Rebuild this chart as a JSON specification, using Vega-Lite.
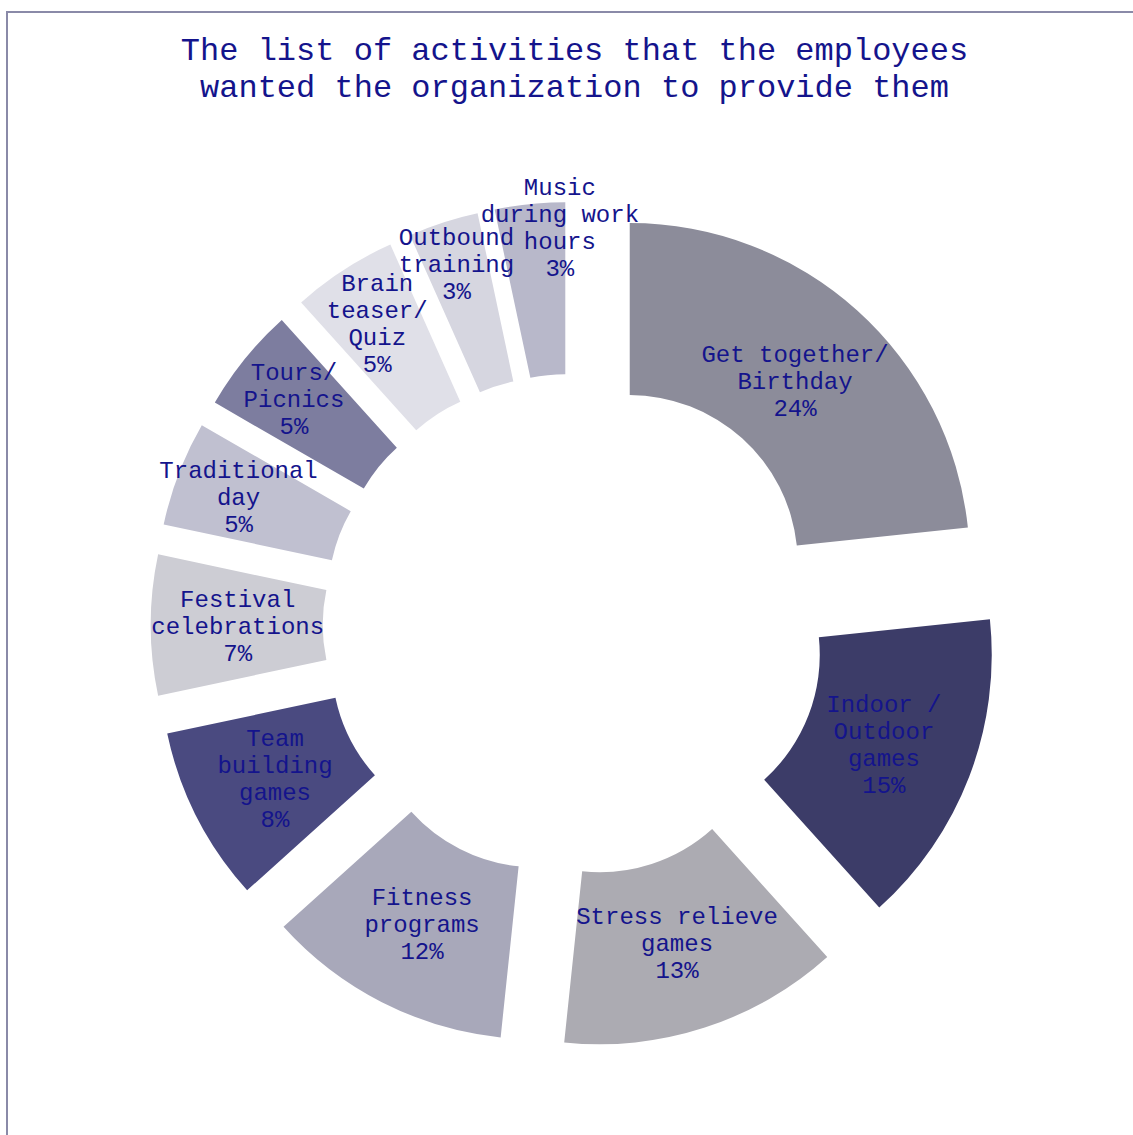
{
  "$schema": "https://vega.github.io/schema/vega-lite/v6.json",
  "autosize": {"type": "none"},
  "padding": {"left": 7, "top": 12, "right": -9, "bottom": -10},
  "width": 1135,
  "height": 1133,
  "background": "white",
  "config": {
    "view": {"stroke": "#8a8aa8", "strokeWidth": 2, "fill": "white"},
    "font": "Liberation Mono"
  },
  "title": {
    "text": ["The list of activities that the employees", "wanted the organization to provide them"],
    "font": "Liberation Mono",
    "fontSize": 32,
    "fontWeight": "normal",
    "color": "#14148c",
    "anchor": "middle",
    "orient": "top",
    "baseline": "top",
    "lineHeight": 37,
    "offset": -92,
    "frame": "group"
  },
  "data": {
    "values": [
      {"name": "Get together/\nBirthday", "count": 14, "pct": 24},
      {"name": "Indoor /\nOutdoor\ngames", "count": 9, "pct": 15},
      {"name": "Stress relieve\ngames", "count": 8, "pct": 13},
      {"name": "Fitness\nprograms", "count": 7, "pct": 12},
      {"name": "Team\nbuilding\ngames", "count": 5, "pct": 8},
      {"name": "Festival\ncelebrations", "count": 4, "pct": 7},
      {"name": "Traditional\nday", "count": 3, "pct": 5},
      {"name": "Tours/\nPicnics", "count": 3, "pct": 5},
      {"name": "Brain\nteaser/\nQuiz", "count": 3, "pct": 5},
      {"name": "Outbound\ntraining", "count": 2, "pct": 3},
      {"name": "Music\nduring work\nhours", "count": 2, "pct": 3}
    ]
  },
  "transform": [
    {"window": [{"op": "sum", "field": "count", "as": "s1"}], "frame": [null, 0]},
    {"calculate": "datum.s1 - datum.count", "as": "s0"},
    {"calculate": "(datum.s0 + datum.s1) / 2", "as": "mid"},
    {"calculate": "sin(2 * PI * datum.mid / 60)", "as": "dx"},
    {"calculate": "cos(2 * PI * datum.mid / 60)", "as": "dy"},
    {"calculate": "datum.name + '\\n' + datum.pct + '%'", "as": "label"},
    {"calculate": "length(split(datum.label, '\\n'))", "as": "nlines"}
  ],
  "encoding": {
    "x": {"field": "dx", "type": "quantitative", "scale": {"domain": [-6.807, 6.819], "zero": false, "nice": false}, "axis": null},
    "y": {"field": "dy", "type": "quantitative", "scale": {"domain": [-6.242, 7.359], "zero": false, "nice": false}, "axis": null}
  },
  "layer": [
    {
      "mark": {"type": "arc", "outerRadius": 340, "innerRadius": 168},
      "encoding": {
        "theta": {"field": "s0", "type": "quantitative", "stack": null, "scale": {"domain": [0, 60], "range": [0, 6.283185307179586]}},
        "theta2": {"field": "s1"},
        "color": {
          "field": "name",
          "type": "nominal",
          "legend": null,
          "sort": null,
          "scale": {
            "domain": ["Get together/\nBirthday", "Indoor /\nOutdoor\ngames", "Stress relieve\ngames", "Fitness\nprograms", "Team\nbuilding\ngames", "Festival\ncelebrations", "Traditional\nday", "Tours/\nPicnics", "Brain\nteaser/\nQuiz", "Outbound\ntraining", "Music\nduring work\nhours"],
            "range": ["#8c8c9a", "#3c3c68", "#acabb2", "#a8a8ba", "#4a4a80", "#cdcdd4", "#c0c0d0", "#7d7d9f", "#e0e0e8", "#d6d6e0", "#b8b8ca"]
          }
        }
      }
    },
    {
      "mark": {"type": "text", "font": "Liberation Mono", "fontSize": 24, "lineHeight": 27, "lineBreak": "\n", "align": "center", "baseline": "middle", "color": "#14148c", "dy": {"expr": "-13.5 * (datum.nlines - 1) + 2"}},
      "encoding": {
        "theta": {"field": "mid", "type": "quantitative", "stack": null, "scale": {"type": "linear", "domain": [0, 57, 59, 60], "range": [0, 5.969, 6.266, 6.2832], "zero": false, "nice": false}},
        "radius": {"field": "s1", "type": "quantitative", "scale": {"type": "linear", "domain": [14, 47, 50, 56, 58, 60], "range": [247, 253, 276, 278, 297, 316], "zero": false, "nice": false}},
        "text": {"field": "label"}
      }
    }
  ],
  "resolve": {"scale": {"theta": "independent", "radius": "independent"}}
}
